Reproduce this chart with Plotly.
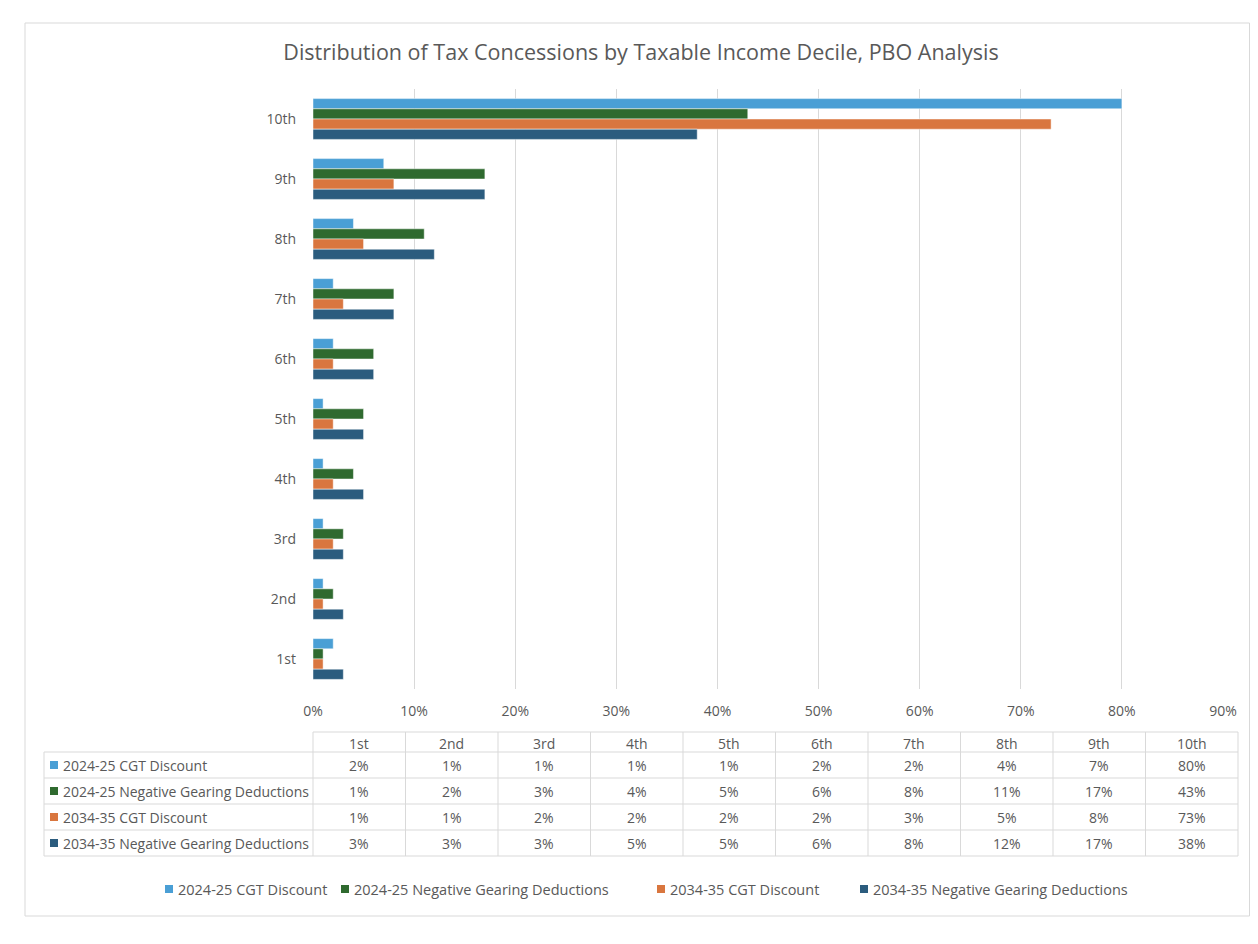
import plotly.graph_objects as go

# Values (percent of total)
deciles = ["1st", "2nd", "3rd", "4th", "5th", "6th", "7th", "8th", "9th", "10th"]
series_names = [
    "2024-25 CGT Discount",
    "2024-25 Negative Gearing Deductions",
    "2034-35 CGT Discount",
    "2034-35 Negative Gearing Deductions",
]
cgt_2425 = [2, 1, 1, 1, 1, 2, 2, 4, 7, 80]
ng_2425 = [1, 2, 3, 4, 5, 6, 8, 11, 17, 43]
cgt_3435 = [1, 1, 2, 2, 2, 2, 3, 5, 8, 73]
ng_3435 = [3, 3, 3, 5, 5, 6, 8, 12, 17, 38]
x_ticks = [0, 10, 20, 30, 40, 50, 60, 70, 80, 90]

series_values = [cgt_2425, ng_2425, cgt_3435, ng_3435]
colors = ["#4A9FD5", "#2F6A2F", "#D9763F", "#2B5C7E"]

# page body has an 8px margin, so the figure is a bit smaller than the window
OFF = 8
W, H = 1258 - 2 * OFF, 944 - 2 * OFF
# plot area in window pixels
L, R, T, B = 313, 1223, 89, 689
text_col = "#595959"
grid_col = "#d9d9d9"
font = "Open Sans"


def px(x):
    return (x - L) / (R - L)


def py(y):
    return (B - y) / (B - T)


fig = go.Figure()
for name, vals, col in zip(series_names, series_values, colors):
    fig.add_trace(go.Bar(
        y=deciles, x=vals, name=name, orientation="h",
        marker=dict(color=col, line=dict(color="rgba(255,255,255,0.6)", width=0.8)),
        hoverinfo="x+y+name", showlegend=False,
    ))

shapes = []
annotations = []

# outer chart border
shapes.append(dict(type="rect", xref="paper", yref="paper",
                   x0=px(25), x1=px(W + OFF - 0.5), y0=py(916), y1=py(23),
                   line=dict(color=grid_col, width=1), layer="below"))

# data table under the axis
tbl_left, tbl_first, tbl_right = 44, 313, 1238
col_w = (tbl_right - tbl_first) / len(deciles)
head_top, head_bot, row_h = 732, 752, 26
rows_bot = head_bot + row_h * len(series_names)


def hline(y, x0, x1):
    shapes.append(dict(type="line", xref="paper", yref="paper",
                       x0=px(x0), x1=px(x1), y0=py(y), y1=py(y),
                       line=dict(color=grid_col, width=1)))


def vline(x, y0, y1):
    shapes.append(dict(type="line", xref="paper", yref="paper",
                       x0=px(x), x1=px(x), y0=py(y0), y1=py(y1),
                       line=dict(color=grid_col, width=1)))


def label(x, y, text, anchor="center", size=14):
    annotations.append(dict(xref="paper", yref="paper", showarrow=False,
                            x=px(x), y=py(y), xanchor=anchor, yanchor="middle",
                            text=text, font=dict(size=size, color=text_col, family=font)))


def swatch(x, y, col):
    shapes.append(dict(type="rect", xref="paper", yref="paper",
                       x0=px(x), x1=px(x + 8), y0=py(y + 4), y1=py(y - 4),
                       fillcolor=col, line=dict(width=0)))


hline(head_top, tbl_first, tbl_right)
for i in range(len(series_names) + 1):
    hline(head_bot + row_h * i, tbl_left, tbl_right)
vline(tbl_left, head_bot, rows_bot)
for c in range(len(deciles) + 1):
    vline(tbl_first + col_w * c, head_top, rows_bot)

for c, d in enumerate(deciles):
    label(tbl_first + col_w * (c + 0.5), (head_top + head_bot) / 2 + 1, d)

for r, (name, vals, col) in enumerate(zip(series_names, series_values, colors)):
    yc = head_bot + row_h * (r + 0.5)
    swatch(50, yc, col)
    label(61, yc, name, anchor="left")
    for c, v in enumerate(vals):
        label(tbl_first + col_w * (c + 0.5), yc, f"{v}%")

# legend along the bottom
legend_x = [165, 341, 657, 860]
for x, name, col in zip(legend_x, series_names, colors):
    swatch(x, 889, col)
    label(x + 11, 889, name, anchor="left", size=14.5)

fig.update_layout(
    width=W, height=H,
    margin=dict(l=L - OFF, r=W + OFF - R, t=T - OFF, b=H + OFF - B, pad=0),
    paper_bgcolor="white", plot_bgcolor="white",
    title=dict(text="Distribution of Tax Concessions by Taxable Income Decile, PBO Analysis",
               x=(641 - OFF) / W, xanchor="center", xref="container",
               y=1 - (52 - OFF) / H, yanchor="middle", yref="container",
               font=dict(size=21.5, color=text_col, family=font)),
    barmode="group", bargap=0.32, bargroupgap=0,
    font=dict(family=font, color=text_col, size=14),
    xaxis=dict(range=[0, 90], tickvals=x_ticks, ticktext=[f"{t}%" for t in x_ticks],
               showgrid=True, gridcolor=grid_col, gridwidth=1, zeroline=False,
               showline=False, ticks="", ticklabelstandoff=12,
               tickfont=dict(size=14, color=text_col)),
    yaxis=dict(categoryorder="array", categoryarray=deciles[::-1], autorange="reversed",
               showgrid=False, zeroline=False, showline=False, ticks="",
               ticklabelstandoff=16, tickfont=dict(size=14, color=text_col)),
    showlegend=False,
    shapes=shapes,
    annotations=annotations,
)

fig.write_html("out.html")
